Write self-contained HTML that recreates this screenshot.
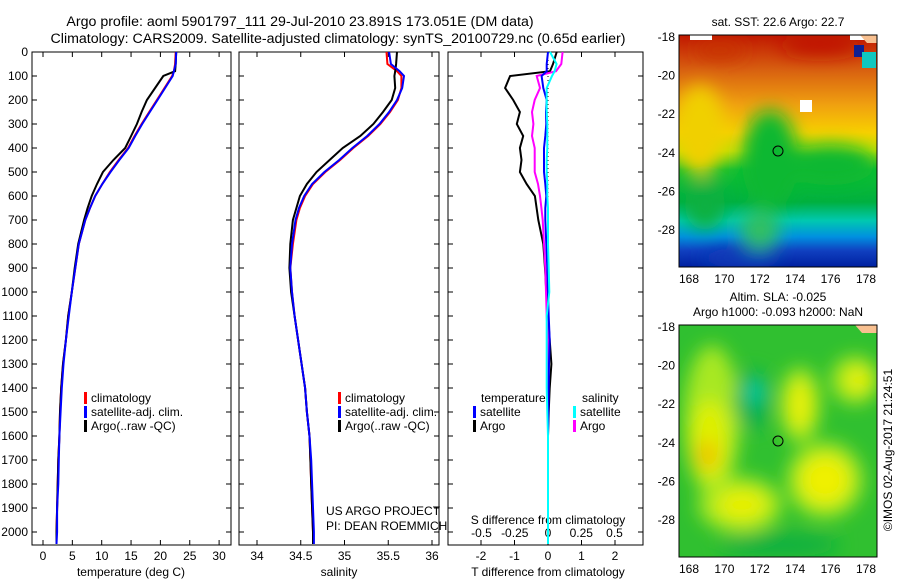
<!DOCTYPE html>
<html><head><meta charset="utf-8"><style>
body{margin:0;background:#fff}
svg text{font-family:"Liberation Sans",sans-serif;font-size:12px;fill:#000}
svg text.ttl{font-size:14.2px}
</style></head><body>
<svg id="c" width="900" height="580" xmlns="http://www.w3.org/2000/svg">
<defs>
<filter id="bl" x="-50%" y="-50%" width="200%" height="200%"><feGaussianBlur stdDeviation="9"/></filter>
<clipPath id="m1c"><rect x="679" y="35" width="198" height="232"/></clipPath>
<clipPath id="m2c"><rect x="679" y="325" width="198" height="232"/></clipPath>
<linearGradient id="sstg" x1="0" y1="0" x2="0" y2="1">
<stop offset="0" stop-color="#c01800"/><stop offset="0.15" stop-color="#d86010"/><stop offset="0.3" stop-color="#f0a010"/><stop offset="0.42" stop-color="#f8d000"/><stop offset="0.5" stop-color="#c0e000"/><stop offset="0.58" stop-color="#10c030"/><stop offset="0.72" stop-color="#00b040"/><stop offset="0.8" stop-color="#00c8b0"/><stop offset="0.87" stop-color="#0090e0"/><stop offset="0.93" stop-color="#1040c0"/><stop offset="1" stop-color="#0020a0"/></linearGradient>
</defs>
<text class="ttl" x="300" y="26" text-anchor="middle">Argo profile: aoml 5901797_111 29-Jul-2010 23.891S 173.051E (DM data)</text>
<text class="ttl" x="338" y="43" text-anchor="middle">Climatology: CARS2009. Satellite-adjusted climatology: synTS_20100729.nc (0.65d earlier)</text>
<g id="g"></g>
<!-- map 1 -->
<g clip-path="url(#m1c)">
<rect x="679" y="35" width="198" height="232" fill="url(#sstg)"/>
<g filter="url(#bl)">
<ellipse cx="700" cy="130" rx="25" ry="45" fill="#f0d000"/>
<ellipse cx="770" cy="160" rx="28" ry="50" fill="#10b830"/>
<ellipse cx="830" cy="165" rx="45" ry="20" fill="#10b830"/>
<ellipse cx="705" cy="205" rx="20" ry="25" fill="#10b040"/>
<ellipse cx="760" cy="230" rx="20" ry="20" fill="#30c060"/>
<ellipse cx="740" cy="258" rx="40" ry="10" fill="#0a3ab8"/>
<ellipse cx="820" cy="45" rx="40" ry="10" fill="#c01400"/>
<ellipse cx="720" cy="50" rx="25" ry="8" fill="#c83000"/>
</g>
<rect x="690" y="35" width="22" height="5" fill="#fff"/><rect x="850" y="35" width="25" height="5" fill="#fff"/>
<rect x="800" y="100" width="12" height="12" fill="#fff"/>
<rect x="854" y="45" width="10" height="12" fill="#102090"/><rect x="862" y="52" width="14" height="16" fill="#10c8c0"/>
<path d="M860 35h17v8h-10z" fill="#f8c090"/>
<circle cx="778" cy="151" r="5" fill="none" stroke="#000"/>
</g>
<rect x="679" y="35" width="198" height="232" fill="none" stroke="#000"/>
<text x="778" y="26" text-anchor="middle">sat. SST: 22.6 Argo: 22.7</text>
<!-- map 2 -->
<g clip-path="url(#m2c)">
<rect x="679" y="325" width="198" height="232" fill="#30c030"/>
<g filter="url(#bl)">
<ellipse cx="712" cy="420" rx="28" ry="75" fill="#a8e820"/>
<ellipse cx="710" cy="440" rx="18" ry="40" fill="#e0f000"/>
<ellipse cx="707" cy="455" rx="10" ry="15" fill="#f0c000"/>
<ellipse cx="740" cy="505" rx="42" ry="28" fill="#a8e820"/>
<ellipse cx="742" cy="505" rx="25" ry="16" fill="#e8f000"/>
<ellipse cx="800" cy="405" rx="20" ry="38" fill="#a8e820"/>
<ellipse cx="800" cy="405" rx="12" ry="25" fill="#e8f000"/>
<ellipse cx="825" cy="480" rx="38" ry="38" fill="#a8e820"/>
<ellipse cx="825" cy="480" rx="25" ry="25" fill="#f0f000"/>
<ellipse cx="855" cy="380" rx="24" ry="24" fill="#a8e820"/>
<ellipse cx="858" cy="380" rx="12" ry="14" fill="#e8f000"/>
<ellipse cx="752" cy="400" rx="18" ry="30" fill="#10b050"/>
<ellipse cx="755" cy="392" rx="10" ry="12" fill="#10c8a0"/>
<ellipse cx="780" cy="545" rx="60" ry="12" fill="#10b040"/>
</g>
<path d="M855 325h22v8h-15z" fill="#f8c090"/>
<circle cx="778" cy="441" r="5" fill="none" stroke="#000"/>
</g>
<rect x="679" y="325" width="198" height="232" fill="none" stroke="#000"/>
<text x="778" y="301" text-anchor="middle">Altim. SLA: -0.025</text>
<text x="778" y="316" text-anchor="middle">Argo h1000: -0.093 h2000: NaN</text>
<text transform="translate(892,450) rotate(-90)" text-anchor="middle">©IMOS 02-Aug-2017 21:24:51</text>
<text x="326" y="515">US ARGO PROJECT</text>
<text x="326" y="530">PI: DEAN ROEMMICH</text>
</svg>
<script>
// ---- data ----
const depths = [0,50,80,100,150,200,250,300,350,400,450,500,550,600,650,700,800,900,1000,1100,1200,1300,1400,1500,1600,1700,1800,1900,2000,2050];
const tempClim = [22.6,22.5,22.3,22.0,20.7,19.4,18.1,16.8,15.6,14.5,12.9,11.4,10.1,8.9,8.0,7.2,6.1,5.5,4.9,4.3,3.9,3.4,3.1,2.9,2.8,2.6,2.5,2.4,2.3,2.3];
const tempSat  = [22.7,22.6,22.3,22.1,20.8,19.5,18.2,16.9,15.7,14.6,13.0,11.5,10.1,8.9,8.0,7.2,6.1,5.5,4.9,4.4,3.9,3.5,3.2,3.0,2.8,2.7,2.6,2.4,2.4,2.3];
const tempArgo = [22.7,22.6,22.5,20.5,19.1,17.7,16.8,16.0,15.0,14.0,12.0,10.2,9.2,8.3,7.6,7.0,6.0,5.4,4.9,4.3,3.9,3.4,3.1,2.9,2.8,2.6,2.5,2.4,2.3,2.3];
const salClim = [35.48,35.49,35.60,35.65,35.65,35.61,35.52,35.41,35.27,35.10,34.95,34.78,34.64,34.55,34.49,34.45,34.41,34.38,34.40,34.43,34.47,34.51,34.55,34.57,34.60,34.61,34.62,34.63,34.64,34.64];
const salSat  = [35.51,35.53,35.63,35.68,35.66,35.60,35.51,35.40,35.26,35.09,34.94,34.77,34.63,34.54,34.48,34.44,34.40,34.38,34.40,34.43,34.47,34.51,34.55,34.57,34.60,34.62,34.63,34.64,34.65,34.65];
const salArgo = [35.60,35.59,35.58,35.57,35.58,35.54,35.44,35.33,35.18,34.98,34.83,34.68,34.57,34.49,34.45,34.41,34.38,34.37,34.39,34.43,34.47,34.51,34.55,34.57,34.60,34.61,34.62,34.63,34.64,34.64];
const dTSat  = [0,-0.04,-0.04,-0.19,-0.14,-0.04,-0.06,-0.05,-0.08,-0.12,-0.12,-0.12,-0.08,-0.05,-0.08,-0.08,-0.05,-0.02,0,0.02,0.05,0.03,0.02,0.01,0,0,0,0,0,0];
const dTArgo = [0.26,0.15,0.06,-1.13,-1.28,-1.04,-0.84,-0.93,-0.74,-0.84,-0.79,-0.84,-0.64,-0.39,-0.34,-0.29,-0.14,-0.09,-0.05,0,0.05,0.1,0.05,0.02,0,0,0,0,0,0];
const dSSat  = [0.015,0.065,0.05,0.03,-0.01,-0.01,-0.01,-0.005,-0.005,-0.005,-0.01,-0.01,-0.005,-0.005,0,0,0,0.005,0.01,-0.01,-0.01,-0.01,-0.01,-0.005,0,0,0,0,0,0];
const dSArgo = [0.11,0.10,0.06,-0.085,-0.06,-0.1,-0.12,-0.11,-0.12,-0.1,-0.1,-0.1,-0.075,-0.06,-0.05,-0.04,-0.03,-0.02,-0.015,-0.01,0,0,0,0,0,0,0,0,0,0];
const depthTicks = [0,100,200,300,400,500,600,700,800,900,1000,1100,1200,1300,1400,1500,1600,1700,1800,1900,2000];
const tempTicks = [0,5,10,15,20,25,30];
const salTicks = [34,34.5,35,35.5,36];
const dTTicks = [-2,-1,0,1,2];
const dSTicks = [-0.5,-0.25,0,0.25,0.5];
const lonTicks = [168,170,172,174,176,178];
const latTicks = [18,20,22,24,26,28];
// ---- scales ----
const NS='http://www.w3.org/2000/svg';
const G=document.getElementById('g');
const yD=d=>52+d*0.24;
const xT=t=>43+t*5.87;
const xS=s=>257+(s-34)*87.5;
const xDT=d=>548+d*33.5;
const xDS=d=>548+d*133;
function mk(tag,at,par){const e=document.createElementNS(NS,tag);for(const k in at)e.setAttribute(k,at[k]);(par||G).appendChild(e);return e;}
function txt(x,y,s,anchor){const e=mk('text',{x:x,y:y,'text-anchor':anchor||'middle'});e.textContent=s;return e;}
function panel(x0,x1,name){
  const r=mk('rect',{x:x0,y:52,width:x1-x0,height:493,fill:'none',stroke:'#000'});
  
  
  depthTicks.forEach(d=>{
    const t1=mk('line',{x1:x0,x2:x0+5,y1:yD(d),y2:yD(d),stroke:'#000'});
    
    
    const t2=mk('line',{x1:x1,x2:x1-5,y1:yD(d),y2:yD(d),stroke:'#000'});
    
    
  });
}
function xticks(ticks,sc,labelY,name,fmt){
  ticks.forEach(v=>{
    const x=sc(v);
    const a=mk('line',{x1:x,x2:x,y1:52,y2:57,stroke:'#000'});
    
    
    const b=mk('line',{x1:x,x2:x,y1:545,y2:540,stroke:'#000'});
    
    
    const t=txt(x,labelY,fmt?fmt(v):String(v));
    
    
  });
}
function line(vals,sc,color,w,name){
  const pts=vals.map((v,i)=>sc(v).toFixed(1)+','+yD(depths[i]).toFixed(1)).join(' ');
  const p=mk('polyline',{points:pts,fill:'none',stroke:color,'stroke-width':w});
  
  
}
panel(32,231,'temperature-panel');
panel(239,439,'salinity-panel');
panel(448,643,'difference-panel');
depthTicks.forEach(d=>{const t=txt(28,yD(d)+4,String(d),'end');
  
  });
xticks(tempTicks,xT,560,'temperature-axis');
xticks(salTicks,xS,560,'salinity-axis');
xticks(dTTicks,xDT,560,'t-diff-axis');
dSTicks.forEach(v=>{const t=txt(xDS(v),537,String(v));
  
  });
[['temperature (deg C)',131,'temperature-axis-title'],['salinity',339,'salinity-axis-title'],['T difference from climatology',548,'t-diff-axis-title']].forEach(a=>{
  const t=txt(a[1],576,a[0]);});
const st=txt(548,524,'S difference from climatology');


const z=mk('line',{x1:548,x2:548,y1:52,y2:yD(950),stroke:'#000','stroke-dasharray':'1,3'});


line(tempClim,xT,'#f00',2,'temp-climatology-line');
line(tempArgo,xT,'#000',2,'temp-argo-line');
line(tempSat,xT,'#00f',2,'temp-satellite-line');
line(salClim,xS,'#f00',2,'sal-climatology-line');
line(salArgo,xS,'#000',2,'sal-argo-line');
line(salSat,xS,'#00f',2,'sal-satellite-line');
line(dTArgo,xDT,'#000',2,'tdiff-argo-line');
line(dSArgo,xDS,'#f0f',2,'sdiff-argo-line');
line(dTSat,xDT,'#00f',2,'tdiff-satellite-line');
line(dSSat,xDS,'#0ff',2,'sdiff-satellite-line');
function leg(x,y,color,label,name){
  const r=mk('rect',{x:x,y:y-10,width:3,height:12,fill:color});
  
  
  const t=txt(x+7,y,label,'start');
  
  
}
[[84,'temp'],[338,'sal']].forEach(p=>{
  leg(p[0],402,'#f00','climatology',p[1]+'-legend-climatology');
  leg(p[0],416,'#00f','satellite-adj. clim.',p[1]+'-legend-satellite');
  leg(p[0],430,'#000','Argo(..raw -QC)',p[1]+'-legend-argo');
});
const lt=txt(481,402,'temperature','start');
const ls=txt(582,402,'salinity','start');
leg(473,416,'#00f','satellite','legend-t-satellite');
leg(473,430,'#000','Argo','legend-t-argo');
leg(573,416,'#0ff','satellite','legend-s-satellite');
leg(573,430,'#f0f','Argo','legend-s-argo');
function mapAxes(top,name){
  const lon=l=>689+(l-168)*17.7;
  const lat=l=>top+2+(l-18)*19.3;
  lonTicks.forEach(l=>{
    const a=mk('line',{x1:lon(l),x2:lon(l),y1:top,y2:top+4,stroke:'#000'});
    
    
    const b=mk('line',{x1:lon(l),x2:lon(l),y1:top+232,y2:top+228,stroke:'#000'});
    
    
    const t=txt(lon(l),top+248,String(l));
    
    
  });
  latTicks.forEach(l=>{
    const a=mk('line',{x1:679,x2:683,y1:lat(l),y2:lat(l),stroke:'#000'});
    
    
    const b=mk('line',{x1:877,x2:873,y1:lat(l),y2:lat(l),stroke:'#000'});
    
    
    const t=txt(675,lat(l)+4,'-'+l,'end');
    
    
  });
}
mapAxes(35,'sst-map');
mapAxes(325,'sla-map');
</script>
</body></html>
